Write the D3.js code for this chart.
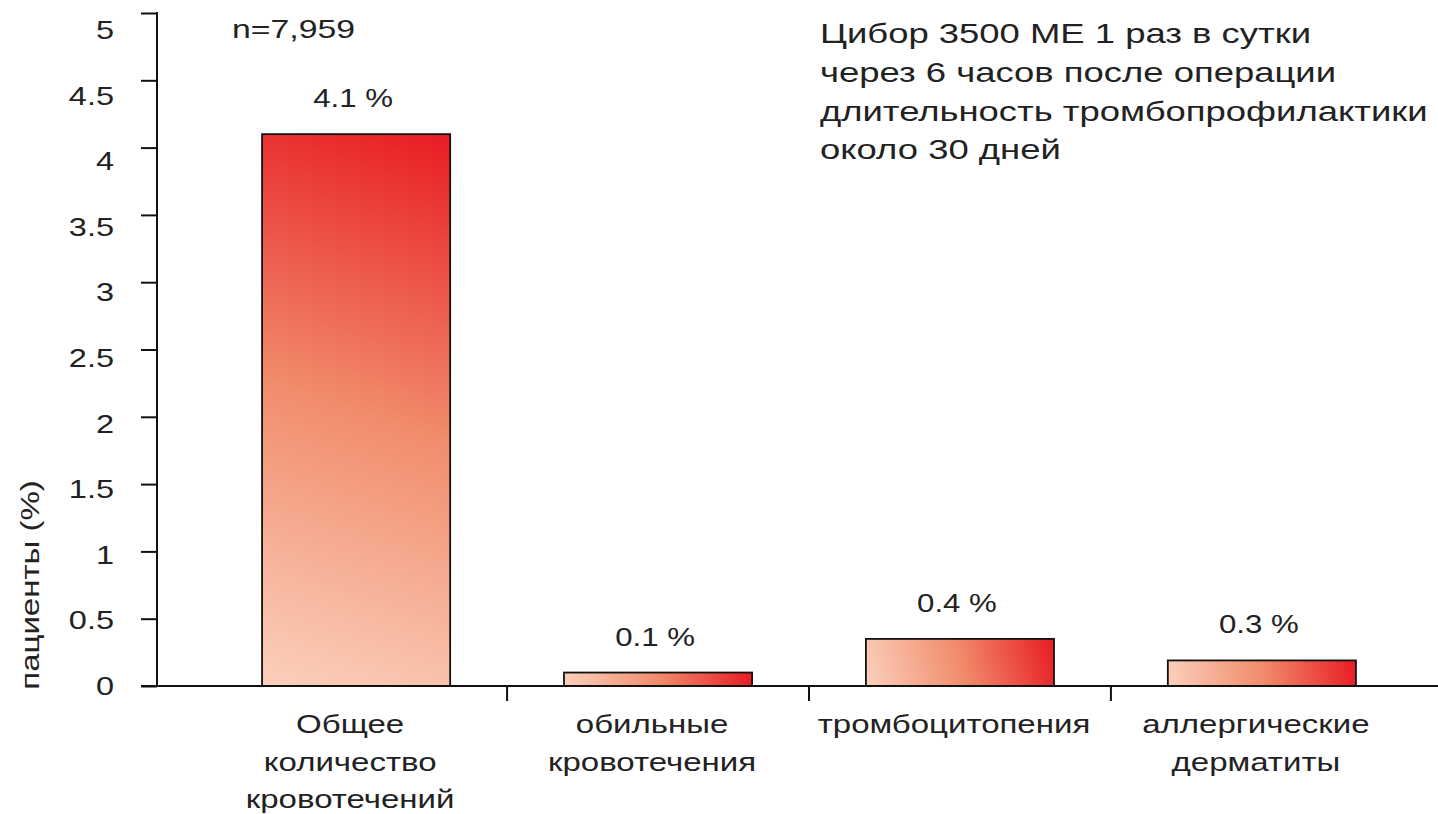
<!DOCTYPE html>
<html><head><meta charset="utf-8">
<script src="https://cdn.jsdelivr.net/npm/d3@7"></script>
<style>
html,body{margin:0;padding:0;background:#fff;}
svg{display:block;font-family:"Liberation Sans",Arial,sans-serif;}
</style></head>
<body>
<svg id="chart" width="1438" height="814"></svg>
<script>
// ---- data ----
const categories = [
  ["Общее","количество","кровотечений"],
  ["обильные","кровотечения"],
  ["тромбоцитопения"],
  ["аллергические","дерматиты"]
];
const values = [4.1, 0.1, 0.35, 0.19];
const valueLabels = ["4.1 %", "0.1 %", "0.4 %", "0.3 %"];
const yTicks = [0, 0.5, 1, 1.5, 2, 2.5, 3, 3.5, 4, 4.5, 5];
const yTitle = "пациенты (%)";
const nLabel = "n=7,959";
const note = ["Цибор 3500 МЕ 1 раз в сутки","через 6 часов после операции","длительность тромбопрофилактики","около 30 дней"];

// ---- drawing ----
const svg = d3.select("#chart");
const W = 1438;
const axisX = 157, y0 = 686, yTop = 13;
const y = d3.scaleLinear().domain([0,5]).range([y0, yTop]);
// tick labels in the original drift slightly relative to tick marks
const yLab = d3.scaleLinear().domain([0,5]).range([y0 + 9, 39]);
const idx = categories.map((d,i)=>i);
const x = d3.scaleBand().domain(idx).range([axisX, 1461]).paddingInner(0.377).paddingOuter(0.348);
const ink = "#222";

function sText(parent, tx, ty, str, anchor, sx, size){
  return parent.append("g").attr("transform",`translate(${tx},${ty}) scale(${sx},1)`)
    .append("text").attr("text-anchor",anchor).attr("font-size",size).attr("fill",ink).text(str);
}

const defs = svg.append("defs");
values.forEach((d,i)=>{
  const g = defs.append("linearGradient").attr("id","barGrad"+i)
    .attr("gradientUnits","userSpaceOnUse")
    .attr("x1",x(i)).attr("y1",y0).attr("x2",x(i)+x.bandwidth()).attr("y2",y(d));
  g.append("stop").attr("offset","0%").attr("stop-color","#fbd0bc");
  g.append("stop").attr("offset","50%").attr("stop-color","#f18c6c");
  g.append("stop").attr("offset","100%").attr("stop-color","#e81c24");
});

// bars
svg.selectAll("rect.bar").data(values).enter().append("rect")
  .attr("class","bar")
  .attr("x",(d,i)=>x(i))
  .attr("y",d=>y(d))
  .attr("width",x.bandwidth())
  .attr("height",d=>y0-y(d))
  .attr("fill",(d,i)=>`url(#barGrad${i})`)
  .attr("stroke","#111").attr("stroke-width",1.8);

// y axis ticks
const yAxis = d3.axisLeft(y).tickValues(yTicks).tickSize(16).tickFormat("");
const ya = svg.append("g").attr("transform",`translate(${axisX},0)`).call(yAxis);
ya.select(".domain").remove();
ya.selectAll(".tick line").attr("stroke","#111").attr("stroke-width",2);
svg.append("line").attr("x1",axisX).attr("x2",axisX).attr("y1",yTop-1).attr("y2",y0)
  .attr("stroke","#111").attr("stroke-width",2);
// y tick labels
yTicks.forEach(t=>{
  sText(svg, 114, yLab(t), String(t), "end", 1.25, 26);
});

// x axis line
svg.append("line").attr("x1",axisX-16).attr("x2",W).attr("y1",y0).attr("y2",y0)
  .attr("stroke","#111").attr("stroke-width",2);

// separators between categories
const seps = idx.slice(1).map(i => (x(i-1)+x.bandwidth()+x(i))/2);
svg.selectAll("line.sep").data(seps).enter().append("line")
  .attr("x1",d=>d).attr("x2",d=>d).attr("y1",y0).attr("y2",y0+15)
  .attr("stroke","#111").attr("stroke-width",2);

// category labels
categories.forEach((lines,i)=>{
  lines.forEach((s,j)=>{
    sText(svg, x(i)+x.bandwidth()/2 - 6, 733 + j*37.5, s, "middle", 1.27, 26);
  });
});

// value labels
values.forEach((d,i)=>{
  sText(svg, x(i)+x.bandwidth()/2 - 3, y(d)-27, valueLabels[i], "middle", 1.2, 26);
});

// y title
svg.append("g").attr("transform","translate(39,585) rotate(-90) scale(1.32,1)")
  .append("text").attr("text-anchor","middle").attr("font-size",25).attr("fill",ink).text(yTitle);

// n label
sText(svg, 232, 38, nLabel, "start", 1.3, 26);

// note
note.forEach((s,j)=>{
  sText(svg, 820, 43 + j*38.8, s, "start", 1.35, 27);
});
</script>
</body></html>
